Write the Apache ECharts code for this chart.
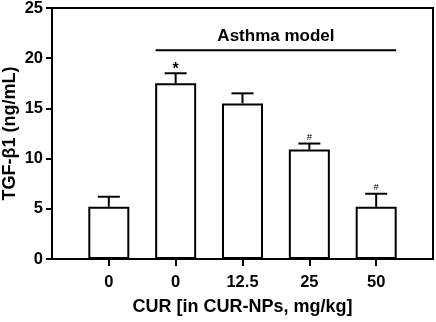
<!DOCTYPE html>
<html>
<head>
<meta charset="utf-8">
<script src="https://cdn.jsdelivr.net/npm/echarts@6/dist/echarts.min.js"></script>
<style>
  html, body { margin: 0; padding: 0; background: #fff; }
  #chart { width: 436px; height: 322px; }
</style>
</head>
<body>
<div id="chart"></div>
<script>
// groups on the x axis
var categories = ['0', '0', '12.5', '25', '50'];
// mean TGF-b1 (ng/mL) and top of the error bar
var means = [5.2, 17.5, 15.5, 10.9, 5.2];
var errTop = [6.2, 18.5, 16.5, 11.5, 6.5];
// significance marks above the error bars
var marks = ['', '*', '', '#', '#'];
// "Asthma model" bracket: from group 1 to group 4, drawn at this level
var bracketFrom = 1;
var bracketTo = 4;
var bracketLevel = 20.8;
var bracketText = 'Asthma model';
var yTicks = { min: 0, max: 25, step: 5 };

var FONT = 'Liberation Sans, Arial, sans-serif';

var barData = means.map(function (v, i) { return [i, v]; });
var errData = means.map(function (v, i) { return [i, v, errTop[i], marks[i]]; });

option = {
    animation: false,
    grid: {
        left: 52,
        right: 3,
        top: 8,
        bottom: 63,
        outerBoundsMode: 'none',
        containLabel: false,
        show: true,
        borderColor: '#000',
        borderWidth: 2
    },
    xAxis: {
        type: 'value',
        min: -0.85,
        max: categories.length - 1 + 0.85,
        splitLine: { show: false },
        axisLine: { onZero: false, lineStyle: { color: '#000', width: 2 } },
        axisTick: {
            show: true,
            length: 7,
            lineStyle: { color: '#000', width: 2 },
            customValues: categories.map(function (c, i) { return i; })
        },
        axisLabel: {
            customValues: categories.map(function (c, i) { return i; }),
            formatter: function (v) { return categories[Math.round(v)]; },
            color: '#000',
            fontFamily: FONT,
            fontWeight: 'bold',
            fontSize: 16.5,
            margin: 15
        },
        name: 'CUR [in CUR-NPs, mg/kg]',
        nameLocation: 'middle',
        nameGap: 39,
        nameMoveOverlap: false,
        nameTextStyle: { color: '#000', fontFamily: FONT, fontWeight: 'bold', fontSize: 18 }
    },
    yAxis: {
        type: 'value',
        min: yTicks.min,
        max: yTicks.max,
        interval: yTicks.step,
        splitLine: { show: false },
        axisLine: { show: true, onZero: false, lineStyle: { color: '#000', width: 2 } },
        axisTick: { show: true, length: 6, lineStyle: { color: '#000', width: 2 } },
        axisLabel: {
            color: '#000',
            fontFamily: FONT,
            fontWeight: 'bold',
            fontSize: 16.5,
            margin: 9
        },
        name: 'TGF-β1 (ng/mL)',
        nameLocation: 'middle',
        nameGap: 33,
        nameMoveOverlap: false,
        nameTextStyle: { color: '#000', fontFamily: FONT, fontWeight: 'bold', fontSize: 18 }
    },
    series: [
        {
            type: 'bar',
            data: barData,
            barWidth: 41,
            itemStyle: { color: '#fff', borderColor: '#000', borderWidth: 2 }
        },
        {
            type: 'custom',
            data: errData,
            encode: { x: 0, y: [1, 2] },
            z: 5,
            renderItem: function (params, api) {
                var x = api.value(0);
                var base = api.coord([x, api.value(1)]);
                var top = api.coord([x, api.value(2)]);
                var mark = errData[params.dataIndex][3];
                var kids = [
                    { type: 'line', shape: { x1: base[0], y1: base[1], x2: top[0], y2: top[1] },
                      style: { stroke: '#000', lineWidth: 2 } },
                    { type: 'line', shape: { x1: top[0] - 11, y1: top[1], x2: top[0] + 11, y2: top[1] },
                      style: { stroke: '#000', lineWidth: 2 } }
                ];
                if (mark) {
                    var star = mark === '*';
                    kids.push({
                        type: 'text',
                        style: {
                            text: mark,
                            x: top[0],
                            y: top[1] - (star ? 3.5 : 6),
                            align: 'center',
                            verticalAlign: 'middle',
                            fill: '#000',
                            font: (star ? 'bold 16px ' : '9.5px ') + FONT
                        }
                    });
                }
                return { type: 'group', children: kids };
            }
        },
        {
            type: 'custom',
            data: [[bracketFrom, bracketTo, bracketLevel]],
            encode: { x: [0, 1], y: 2 },
            z: 5,
            renderItem: function (params, api) {
                var a = api.coord([api.value(0), api.value(2)]);
                var b = api.coord([api.value(1), api.value(2)]);
                return {
                    type: 'group',
                    children: [
                        { type: 'line', shape: { x1: a[0] - 20, y1: a[1], x2: b[0] + 20, y2: b[1] },
                          style: { stroke: '#000', lineWidth: 2 } },
                        { type: 'text', style: {
                            text: bracketText,
                            x: (a[0] + b[0]) / 2,
                            y: a[1] - 14,
                            align: 'center',
                            verticalAlign: 'middle',
                            fill: '#000',
                            font: 'bold 17px ' + FONT
                        } }
                    ]
                };
            }
        }
    ]
};

var chart = echarts.init(document.getElementById('chart'));
chart.setOption(option);
</script>
</body>
</html>
